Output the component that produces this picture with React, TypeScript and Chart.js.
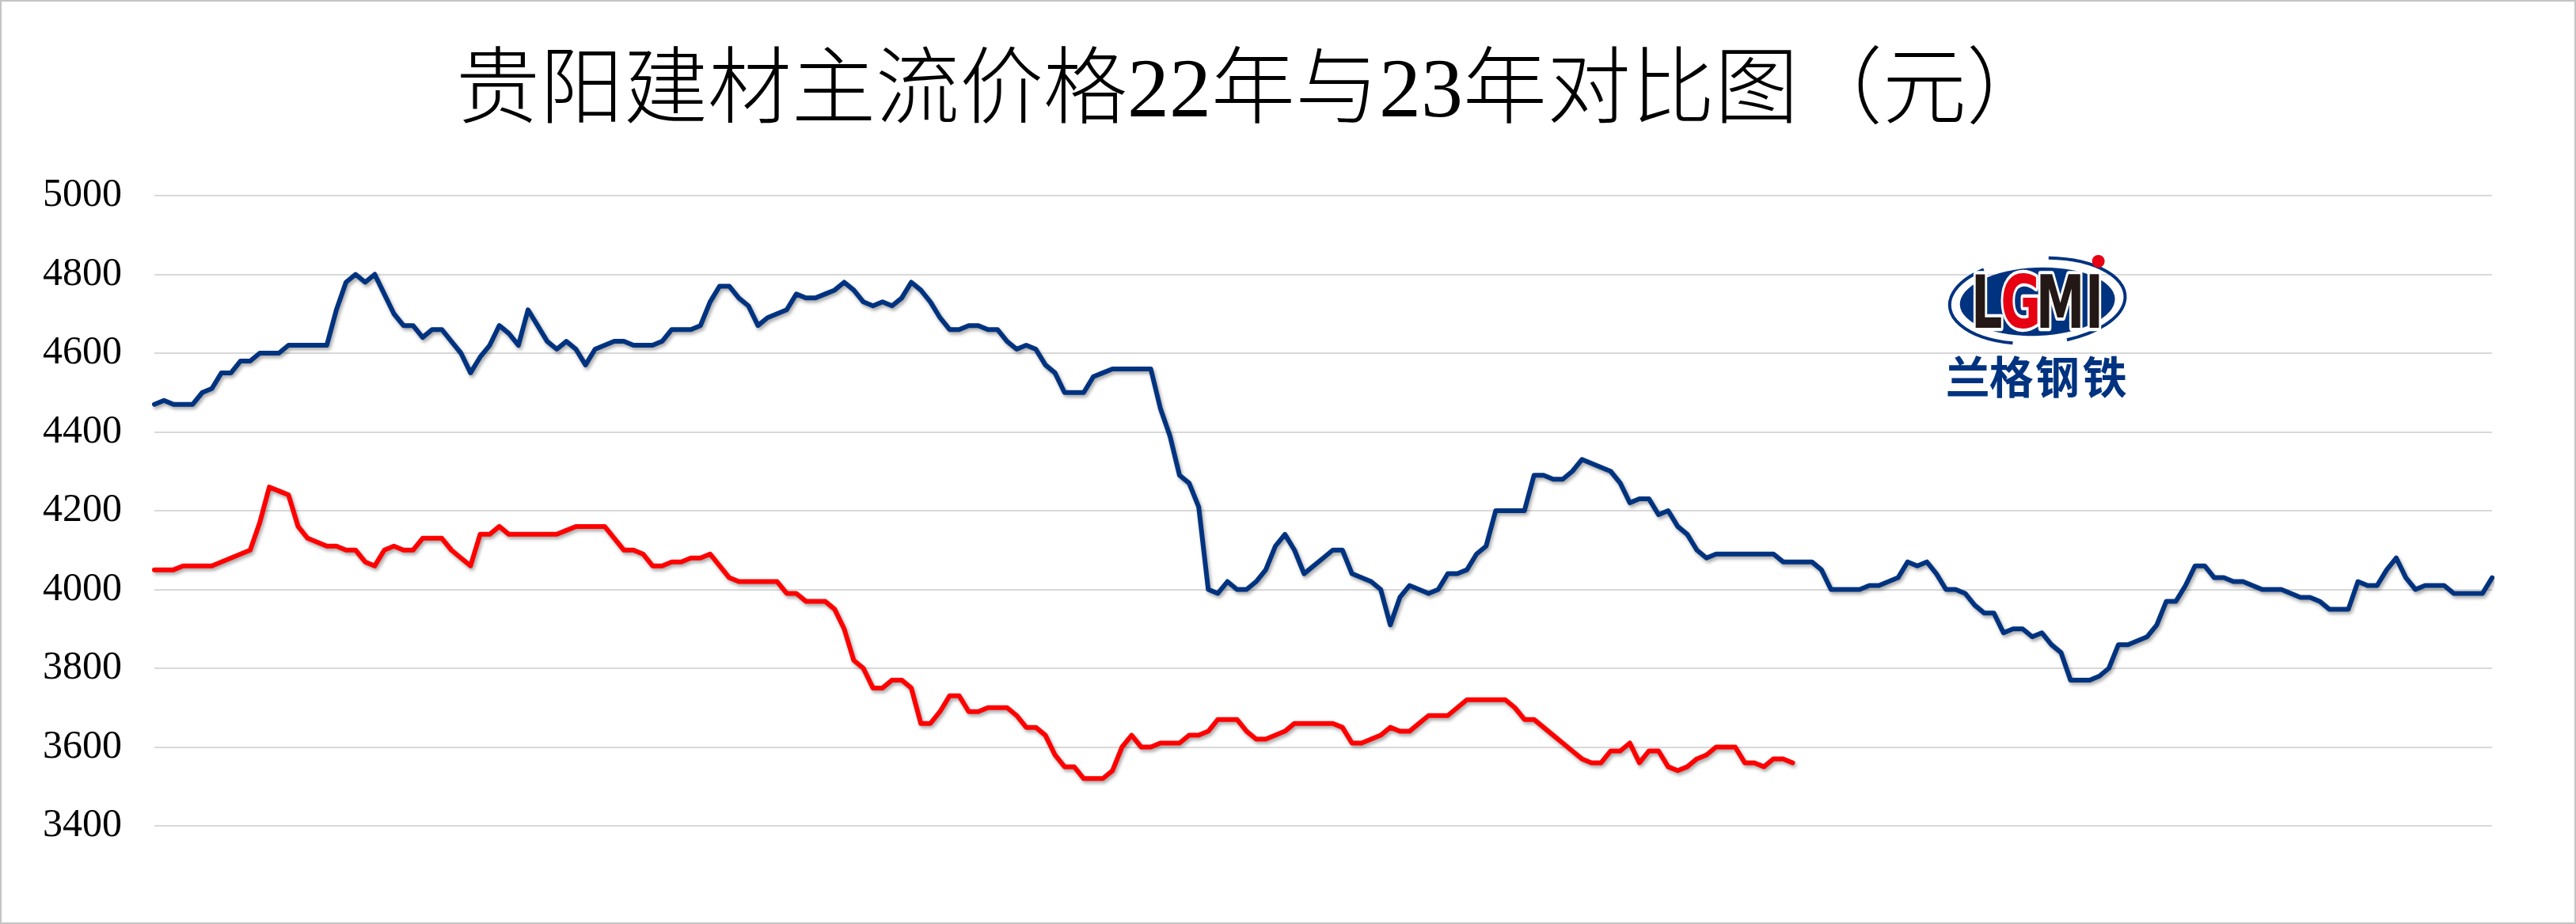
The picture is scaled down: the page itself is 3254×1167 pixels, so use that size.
import React, { useEffect, useRef } from 'react';
import { Chart, registerables } from 'chart.js';

Chart.register(...registerables);

const titleText = '贵阳建材主流价格22年与23年对比图（元）';
const seriesNames = ['22年', '23年'];
const yTickValues = [3400, 3600, 3800, 4000, 4200, 4400, 4600, 4800, 5000];
const logoLetters = ['L', 'G', 'M', 'I'];
const logoCaption = ['兰', '格', '钢', '铁'];

const prices22 = [
  4470, 4480, 4470, 4470, 4470, 4500, 4510, 4550, 4550, 4580,
  4580, 4600, 4600, 4600, 4620, 4620, 4620, 4620, 4620, 4710,
  4780, 4800, 4780, 4800, 4750, 4700, 4670, 4670, 4640, 4660,
  4660, 4630, 4600, 4550, 4590, 4620, 4670, 4650, 4620, 4710,
  4670, 4630, 4610, 4630, 4610, 4570, 4610, 4620, 4630, 4630,
  4620, 4620, 4620, 4630, 4660, 4660, 4660, 4670, 4730, 4770,
  4770, 4740, 4720, 4670, 4690, 4700, 4710, 4750, 4740, 4740,
  4750, 4760, 4780, 4760, 4730, 4720, 4730, 4720, 4740, 4780,
  4760, 4730, 4690, 4660, 4660, 4670, 4670, 4660, 4660, 4630,
  4610, 4620, 4610, 4570, 4550, 4500, 4500, 4500, 4540, 4550,
  4560, 4560, 4560, 4560, 4560, 4460, 4390, 4290, 4270, 4210,
  4000, 3990, 4020, 4000, 4000, 4020, 4050, 4110, 4140, 4100,
  4040, 4060, 4080, 4100, 4100, 4040, 4030, 4020, 4000, 3910,
  3980, 4010, 4000, 3990, 4000, 4040, 4040, 4050, 4090, 4110,
  4200, 4200, 4200, 4200, 4290, 4290, 4280, 4280, 4300, 4330,
  4320, 4310, 4300, 4270, 4220, 4230, 4230, 4190, 4200, 4160,
  4140, 4100, 4080, 4090, 4090, 4090, 4090, 4090, 4090, 4090,
  4070, 4070, 4070, 4070, 4050, 4000, 4000, 4000, 4000, 4010,
  4010, 4020, 4030, 4070, 4060, 4070, 4040, 4000, 4000, 3990,
  3960, 3940, 3940, 3890, 3900, 3900, 3880, 3890, 3860, 3840,
  3770, 3770, 3770, 3780, 3800, 3860, 3860, 3870, 3880, 3910,
  3970, 3970, 4010, 4060, 4060, 4030, 4030, 4020, 4020, 4010,
  4000, 4000, 4000, 3990, 3980, 3980, 3970, 3950, 3950, 3950,
  4020, 4010, 4010, 4050, 4080, 4030, 4000, 4010, 4010, 4010,
  3990, 3990, 3990, 3990, 4030,
];

const prices23 = [
  4050, 4050, 4050, 4060, 4060, 4060, 4060, 4070, 4080, 4090,
  4100, 4170, 4260, 4250, 4240, 4160, 4130, 4120, 4110, 4110,
  4100, 4100, 4070, 4060, 4100, 4110, 4100, 4100, 4130, 4130,
  4130, 4100, 4080, 4060, 4140, 4140, 4160, 4140, 4140, 4140,
  4140, 4140, 4140, 4150, 4160, 4160, 4160, 4160, 4130, 4100,
  4100, 4090, 4060, 4060, 4070, 4070, 4080, 4080, 4090, 4060,
  4030, 4020, 4020, 4020, 4020, 4020, 3990, 3990, 3970, 3970,
  3970, 3950, 3900, 3820, 3800, 3750, 3750, 3770, 3770, 3750,
  3660, 3660, 3690, 3730, 3730, 3690, 3690, 3700, 3700, 3700,
  3680, 3650, 3650, 3630, 3580, 3550, 3550, 3520, 3520, 3520,
  3540, 3600, 3630, 3600, 3600, 3610, 3610, 3610, 3630, 3630,
  3640, 3670, 3670, 3670, 3640, 3620, 3620, 3630, 3640, 3660,
  3660, 3660, 3660, 3660, 3650, 3610, 3610, 3620, 3630, 3650,
  3640, 3640, 3660, 3680, 3680, 3680, 3700, 3720, 3720, 3720,
  3720, 3720, 3700, 3670, 3670, 3650, 3630, 3610, 3590, 3570,
  3560, 3560, 3590, 3590, 3610, 3560, 3590, 3590, 3550, 3540,
  3550, 3570, 3580, 3600, 3600, 3600, 3560, 3560, 3550, 3570,
  3570, 3560,
];

const categories = prices22.map((_, i) => `${i + 1}`);

const BLUE = '#00337f';
const RED = '#ff0000';

const shadowPlugin = {
  id: 'lineShadow',
  beforeDatasetDraw(chart: any) {
    const ctx = chart.ctx;
    ctx.save();
    ctx.shadowColor = 'rgba(0,0,0,0.35)';
    ctx.shadowBlur = 4;
    ctx.shadowOffsetX = 2;
    ctx.shadowOffsetY = 3;
  },
  afterDatasetDraw(chart: any) {
    chart.ctx.restore();
  },
};

const titlePlugin = {
  id: 'customTitle',
  afterDraw(chart: any) {
    const ctx = chart.ctx;
    ctx.save();
    ctx.fillStyle = '#000';
    ctx.font = '300 106px "Liberation Serif", "Noto Sans CJK SC", serif';
    ctx.textAlign = 'center';
    ctx.textBaseline = 'middle';
    ctx.fillText(titleText, chart.width * 0.4865, 119);
    ctx.restore();
  },
};

const logoPlugin = {
  id: 'logo',
  afterDraw(chart: any) {
    const ctx = chart.ctx;
    const a = chart.chartArea;
    const cx = a.left + a.width * 0.8055;
    const cy = a.top + 133;
    ctx.save();
    // outer swoosh ring
    ctx.strokeStyle = BLUE;
    ctx.lineWidth = 4;
    ctx.beginPath();
    ctx.ellipse(cx, cy, 111, 54, -0.06, Math.PI * 0.6, Math.PI * 1.3);
    ctx.stroke();
    ctx.beginPath();
    ctx.ellipse(cx, cy, 111, 54, -0.06, Math.PI * 1.55, Math.PI * 2.4);
    ctx.stroke();
    // inner filled ellipse
    ctx.fillStyle = BLUE;
    ctx.beginPath();
    ctx.ellipse(cx, cy + 1, 98, 43, -0.04, 0, Math.PI * 2);
    ctx.fill();
    // letters
    const offs = [-64, -21, 29, 72];
    const colors = ['#231815', '#e60012', '#231815', '#231815'];
    ctx.font = 'bold 100px "DejaVu Sans", "Liberation Sans", sans-serif';
    ctx.textAlign = 'center';
    ctx.textBaseline = 'alphabetic';
    ctx.lineJoin = 'round';
    logoLetters.forEach((ch, i) => {
      ctx.save();
      ctx.translate(cx + offs[i], cy + 34);
      ctx.scale(0.62, 0.92);
      ctx.strokeStyle = '#ffffff';
      ctx.lineWidth = 9;
      ctx.strokeText(ch, 0, 0);
      ctx.fillStyle = colors[i];
      ctx.fillText(ch, 0, 0);
      ctx.restore();
    });
    // red dot
    ctx.fillStyle = '#e60012';
    ctx.beginPath();
    ctx.arc(cx + 77, cy - 50, 8, 0, Math.PI * 2);
    ctx.fill();
    // caption
    ctx.fillStyle = BLUE;
    ctx.font = 'bold 56px "Noto Sans CJK SC", sans-serif';
    ctx.textBaseline = 'middle';
    const capOffs = [-88, -33, 25, 85];
    logoCaption.forEach((ch, i) => {
      ctx.fillText(ch, cx + capOffs[i], cy + 96);
    });
    ctx.restore();
  },
};

export default function App() {
  const canvasRef = useRef<HTMLCanvasElement | null>(null);

  useEffect(() => {
    if (!canvasRef.current) return;
    const chart = new Chart(canvasRef.current, {
      type: 'line',
      data: {
        labels: categories,
        datasets: [
          {
            label: seriesNames[0],
            data: prices22,
            borderColor: BLUE,
            backgroundColor: BLUE,
            borderWidth: 6,
            pointRadius: 0,
            tension: 0,
            borderJoinStyle: 'round',
            borderCapStyle: 'round',
            fill: false,
          },
          {
            label: seriesNames[1],
            data: prices23,
            borderColor: RED,
            backgroundColor: RED,
            borderWidth: 6,
            pointRadius: 0,
            tension: 0,
            borderJoinStyle: 'round',
            borderCapStyle: 'round',
            fill: false,
          },
        ],
      },
      options: {
        responsive: false,
        animation: false,
        devicePixelRatio: 1,
        layout: { padding: { top: 247, right: 106, bottom: 124, left: 0 } },
        plugins: {
          legend: { display: false },
          title: { display: false },
          tooltip: { enabled: false },
        },
        scales: {
          x: {
            display: false,
            offset: false,
          },
          y: {
            min: yTickValues[0],
            max: yTickValues[yTickValues.length - 1],
            afterFit(scale: any) {
              scale.width = 195;
            },
            afterBuildTicks(scale: any) {
              scale.ticks = yTickValues.map((v) => ({ value: v }));
            },
            border: { display: false },
            grid: { color: '#d9d9d9', lineWidth: 2, drawTicks: false },
            ticks: {
              padding: 41,
              color: '#000',
              font: { family: '"Liberation Serif", serif', size: 50 },
              callback: (v: any) => String(v),
            },
          },
        },
      },
      plugins: [shadowPlugin, titlePlugin, logoPlugin],
    });
    return () => chart.destroy();
  }, []);

  return (
    <div style={{ position: 'absolute', left: 0, top: 0, width: 3254, height: 1167, background: '#fff' }}>
      <canvas ref={canvasRef} width={3254} height={1167} style={{ display: 'block', width: 3254, height: 1167 }} />
      <div
        style={{
          position: 'absolute',
          inset: 0,
          border: '2px solid #c4c4c4',
          boxSizing: 'border-box',
          pointerEvents: 'none',
        }}
      />
    </div>
  );
}
